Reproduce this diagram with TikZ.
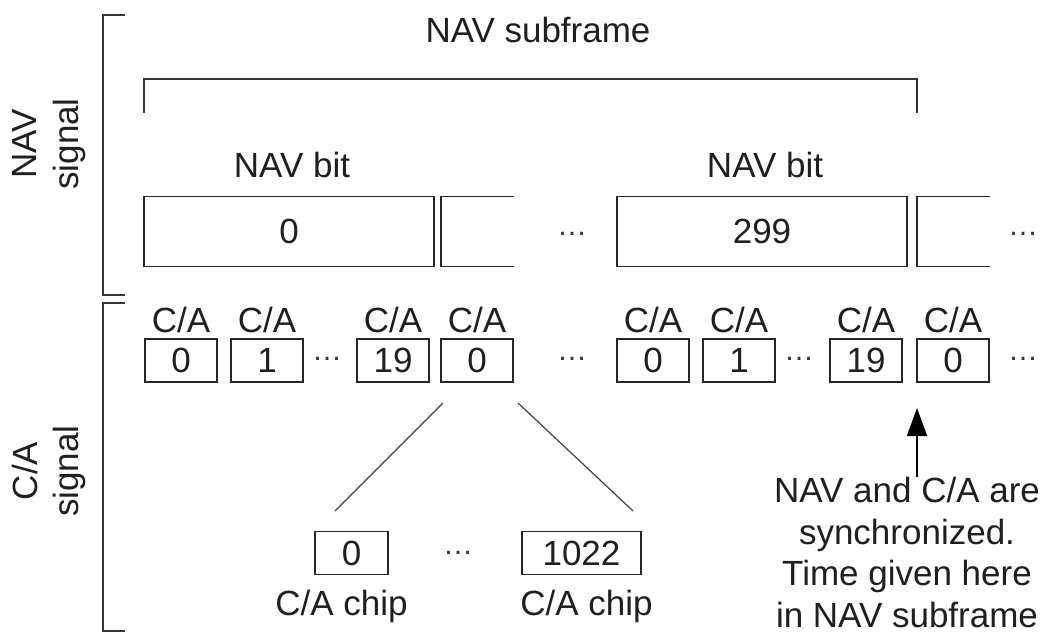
\documentclass[tikz,border=0pt]{standalone}
\usepackage{fontspec}
\setmainfont{Liberation Sans}
\usetikzlibrary{arrows.meta,calc}
\begin{document}
\begin{tikzpicture}[x=0.5pt,y=-0.5pt,
  txt/.style={font=\fontsize{17.5}{20.8}\selectfont, inner sep=0pt, text=black!88},
  dotsty/.style={font=\fontsize{15}{18}\selectfont, inner sep=0pt, text=black!80},
  navbox/.style={txt, draw=black!85, line width=0.9pt, minimum width=145pt, minimum height=35pt},
  cabox/.style={txt, draw=black!85, line width=0.9pt, minimum width=36pt, minimum height=21.5pt},
  openbox/.style={draw=black!85, line width=0.9pt},
  brk/.style={draw=black!80, line width=1.2pt},
  fan/.style={draw=black!75, line width=0.6pt},
  syncarrow/.style={draw=black, line width=0.8pt, -{Triangle[length=14pt,width=10pt]}}
]
\useasboundingbox (0,0) rectangle (1059,637);

% side labels and brackets
\node[txt, rotate=90, align=center] (navsig) at (49,144) {NAV\\signal};
\node[txt, rotate=90, align=center] (casig) at (49,471) {C/A\\signal};
\draw[brk] (125,15) -- (103,15) -- (103,295) -- (125,295);
\draw[brk] (125,303) -- (103,303) -- (103,631) -- (125,631);

% NAV subframe
\node[txt, anchor=base] (subf) at (538,42) {NAV subframe};
\draw[brk, line width=1pt] (144,113) -- (144,79) -- (917,79) -- (917,113);

% NAV bits
\node[txt, anchor=base] (navbitA) at (292,177) {NAV bit};
\node[txt, anchor=base] (navbitB) at (765,177) {NAV bit};
\node[navbox] (nav0) at (289,231.5) {0};
\node[navbox] (nav299) at (762,231.5) {299};
\draw[openbox] (514,196.5) -- (441,196.5) -- (441,266.5) -- (514,266.5);
\draw[openbox] (990,196.5) -- (917,196.5) -- (917,266.5) -- (990,266.5);
\node[dotsty] (navdotsA) at (572,234) {…};
\node[dotsty] (navdotsB) at (1023,234) {…};

% C/A codes
\foreach \nm/\cx/\lab in {caA/181/0, caB/267/1, caC/393/19, caD/477/0, caE/653/0, caF/739/1, caG/866/19, caH/953/0}{
  \node[cabox] (\nm) at (\cx,360.5) {\lab};
  \node[txt, anchor=base] (\nm lbl) at (\cx,332) {C/A};
}
\node[dotsty] (cadotsA) at (327,359) {…};
\node[dotsty] (cadotsB) at (572,359) {…};
\node[dotsty] (cadotsC) at (799,359) {…};
\node[dotsty] (cadotsD) at (1023,359) {…};

% chips
\node[cabox, minimum width=36.5pt] (chip0) at (351.5,553) {0};
\node[cabox, minimum width=59.5pt] (chip1022) at (581.5,553) {1022};
\node[dotsty] (chipdots) at (458,553) {…};
\node[txt, anchor=base] (chip0lbl) at (341.5,615) {C/A chip};
\node[txt, anchor=base] (chip1022lbl) at (586.5,615) {C/A chip};

\coordinate (fanLa) at (443,403);
\coordinate (fanLb) at (335,511);
\coordinate (fanRa) at (518,403);
\coordinate (fanRb) at (633,511);
\draw[fan] (fanLa) -- (fanLb);
\draw[fan] (fanRa) -- (fanRb);

% synchronization note
\node[txt, align=center, anchor=north] (sync) at (907,477)
  {NAV and C/A are\\synchronized.\\Time given here\\in NAV subframe};
\coordinate (synctip) at (917,408);
\draw[syncarrow] (sync.north -| synctip) -- (synctip);
\end{tikzpicture}
\end{document}
